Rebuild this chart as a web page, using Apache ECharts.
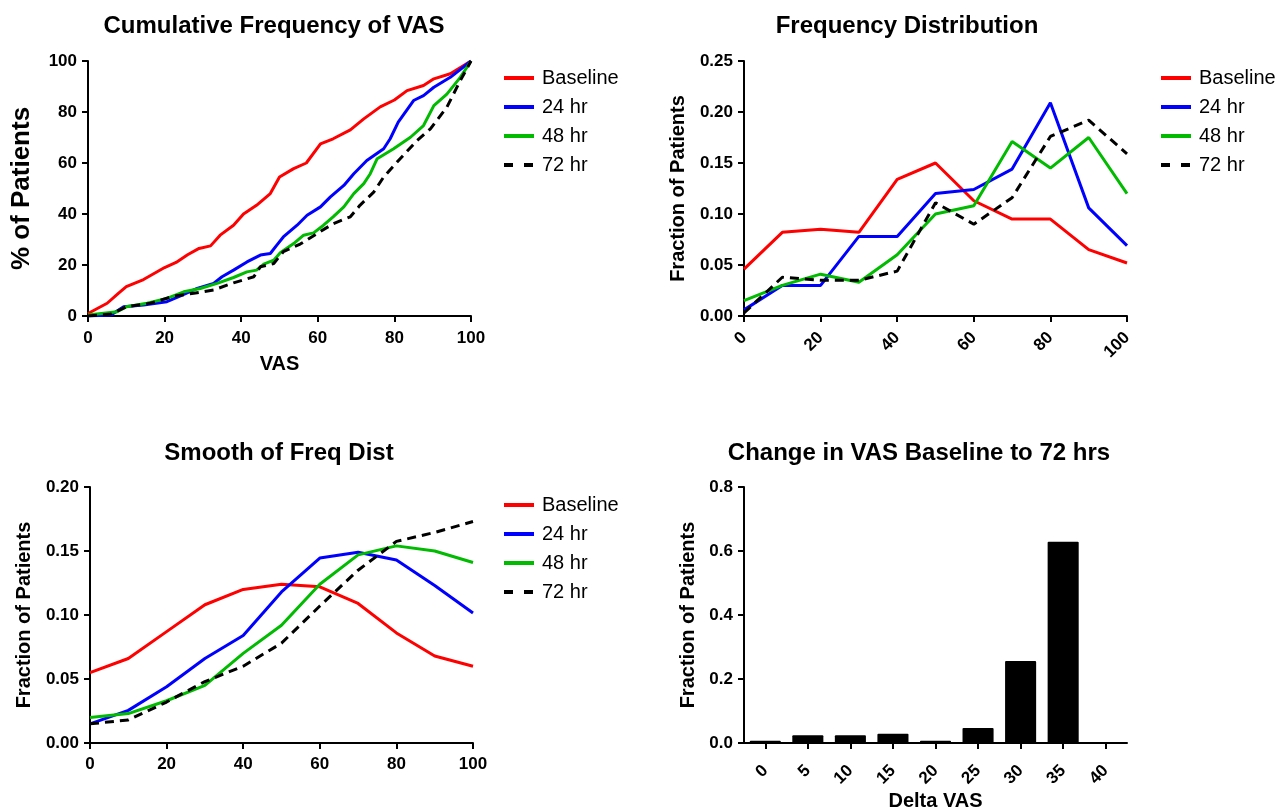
<!DOCTYPE html>
<html>
<head>
<meta charset="utf-8">
<title>VAS charts</title>
<script src="https://cdn.jsdelivr.net/npm/echarts@6/dist/echarts.min.js"></script>
<style>
  html, body { margin: 0; padding: 0; background: #fff; }
  #chart { width: 1283px; height: 812px; }
</style>
</head>
<body>
<div id="chart"></div>
<script>
// cumulative frequency (VAS, % of patients)
const cumBaseX = [0, 5, 8, 10, 14.5, 20, 23, 26, 29, 32, 34.5, 38, 40.6, 44, 47.6, 50, 53.7, 57, 60.7, 64, 68.5, 72, 76.3, 80, 83.3, 87.6, 90.3, 94.6, 100]
const cumBaseY = [1, 5, 9, 11.5, 14.3, 19, 21, 24, 26.5, 27.5, 31.7, 35.6, 40, 43.4, 48, 54.5, 57.8, 60, 67.5, 69.5, 73, 77.3, 82, 84.7, 88.4, 90.4, 93, 95, 100]
const cum24X = [0, 6, 9.3, 14.5, 20.6, 24, 28.5, 32.8, 35, 38, 41.5, 45, 47.6, 49.3, 51, 54.6, 57.2, 60.7, 63.3, 66.8, 69.4, 72.8, 77.2, 78.9, 81, 85, 87.6, 90.3, 94.6, 100]
const cum24Y = [0, 0.4, 3.6, 4.3, 5.6, 7.8, 10.8, 12.8, 15.4, 18, 21.2, 23.9, 24.5, 27.8, 31, 35.6, 39.5, 42.8, 46.7, 51.2, 55.8, 61, 65.6, 69.5, 76, 84.5, 86.4, 89.7, 93.6, 100]
const cum48X = [0, 7.6, 10, 15.4, 20.6, 25, 29.3, 33.7, 38, 41.5, 44, 45.9, 48.5, 50.2, 53.7, 56.3, 58.9, 61.5, 64, 66.8, 69.4, 72, 73.7, 75.5, 79.8, 84.2, 87.6, 90.3, 93.7, 97.2, 100]
const cum48Y = [0.4, 1.7, 3.6, 5, 6.9, 9.5, 10.8, 12.8, 15.1, 17.3, 18, 20.3, 21.9, 24.8, 28.4, 31.7, 32.6, 35.6, 38.9, 42.8, 48, 51.9, 55.8, 61.7, 65.6, 70.1, 74.7, 82.5, 87, 93.6, 100]
const cum72X = [0, 6, 10, 16.3, 22.4, 27.6, 32.8, 38, 43.3, 45, 48.5, 51, 55.4, 59.8, 64, 68.5, 71, 74.6, 77.2, 81.5, 85.9, 89.4, 93.7, 97.2, 100]
const cum72Y = [0, 0.8, 3.6, 5, 7.8, 8.9, 10.2, 13, 15.4, 19.3, 20.6, 25.2, 28.2, 32.3, 36.2, 38.9, 43.4, 48.6, 54.5, 61.7, 68.8, 73.4, 81.9, 92.3, 100]

// frequency distribution, bins of 10 VAS
const vasBins = [0, 10, 20, 30, 40, 50, 60, 70, 80, 90, 100]
const freqBase = [0.046, 0.082, 0.085, 0.082, 0.134, 0.150, 0.113, 0.095, 0.095, 0.065, 0.052]
const freq24 = [0.006, 0.030, 0.030, 0.078, 0.078, 0.120, 0.124, 0.144, 0.209, 0.106, 0.069]
const freq48 = [0.015, 0.030, 0.041, 0.033, 0.060, 0.100, 0.108, 0.171, 0.145, 0.175, 0.120]
const freq72 = [0.003, 0.038, 0.035, 0.035, 0.044, 0.111, 0.090, 0.116, 0.176, 0.192, 0.159]

// smoothed frequency distribution
const smoothBase = [0.055, 0.066, 0.087, 0.108, 0.120, 0.124, 0.122, 0.109, 0.086, 0.068, 0.060]
const smooth24 = [0.015, 0.0255, 0.044, 0.066, 0.084, 0.118, 0.1445, 0.149, 0.143, 0.123, 0.1015]
const smooth48 = [0.020, 0.023, 0.033, 0.045, 0.070, 0.092, 0.124, 0.147, 0.154, 0.150, 0.141]
const smooth72 = [0.015, 0.018, 0.032, 0.048, 0.060, 0.078, 0.107, 0.135, 0.1575, 0.1645, 0.173]

// change in VAS baseline to 72 hrs
const deltaCats = ['0', '5', '10', '15', '20', '25', '30', '35', '40']
const deltaFrac = [0.007, 0.024, 0.024, 0.029, 0.007, 0.047, 0.256, 0.629, 0]

const seriesNames = ['Baseline', '24 hr', '48 hr', '72 hr']
const seriesColors = ['#ff0000', '#0000ff', '#00bb00', '#000000']

const FONT = '"Liberation Sans", Arial, sans-serif'

function zip (xs, ys) {
  return xs.map((x, i) => [x, ys[i]])
}

function lineSeries (idx, data, gridIdx) {
  return {
    name: seriesNames[idx],
    type: 'line',
    xAxisIndex: gridIdx,
    yAxisIndex: gridIdx,
    data: data,
    symbol: 'none',
    smooth: false,
    animation: false,
    lineStyle: {
      color: seriesColors[idx],
      width: 3,
      type: idx === 3 ? [9, 6] : 'solid'
    },
    itemStyle: { color: seriesColors[idx] }
  }
}

const axisCommon = {
  axisLine: { show: true, onZero: false, lineStyle: { color: '#000', width: 2 } },
  axisTick: { show: true, length: 6, lineStyle: { color: '#000', width: 2 } },
  splitLine: { show: false },
  axisLabel: { color: '#000', fontWeight: 'bold', fontSize: 17, fontFamily: FONT, margin: 11 }
}

function valueX (gridIdx, labelMargin, extra) {
  const axis = Object.assign({
    type: 'value',
    gridIndex: gridIdx,
    min: 0,
    max: 100,
    interval: 20
  }, JSON.parse(JSON.stringify(axisCommon)), extra || {})
  axis.axisLabel.margin = labelMargin
  return axis
}

function valueY (gridIdx, max, interval, digits, name, nameSize, nameGap) {
  const axis = Object.assign({
    type: 'value',
    gridIndex: gridIdx,
    min: 0,
    max: max,
    interval: interval,
    name: name,
    nameLocation: 'middle',
    nameGap: nameGap,
    nameTextStyle: { color: '#000', fontWeight: 'bold', fontSize: nameSize, fontFamily: FONT }
  }, JSON.parse(JSON.stringify(axisCommon)))
  axis.axisLabel.formatter = v => v.toFixed(digits)
  return axis
}

function legendAt (left, top) {
  // the dashed entry gets longer dashes, like the original key
  const items = seriesNames.map((name, i) => i === 3
    ? { name: name, lineStyle: { type: [9, 11] } }
    : { name: name })
  return {
    left: left,
    top: top,
    orient: 'vertical',
    itemWidth: 30,
    itemHeight: 14,
    itemGap: 9,
    data: items,
    itemStyle: { opacity: 0 },
    lineStyle: { width: 4 },
    textStyle: { color: '#000', fontSize: 20, fontFamily: FONT, padding: [0, 0, 0, 3] },
    selectedMode: false
  }
}

function titleAt (text, x, y) {
  return {
    text: text,
    left: x,
    top: y,
    textAlign: 'center',
    textStyle: { color: '#000', fontWeight: 'bold', fontSize: 24, fontFamily: FONT }
  }
}

const chart = echarts.init(document.getElementById('chart'))

const xCum = valueX(0, 14, {
  name: 'VAS',
  nameLocation: 'middle',
  nameGap: 38,
  nameTextStyle: { color: '#000', fontWeight: 'bold', fontSize: 20, fontFamily: FONT }
})
const xFreq = valueX(1, 19)
xFreq.axisLabel.rotate = 45
const xSmooth = valueX(2, 13)

const xDelta = Object.assign({
  type: 'category',
  gridIndex: 3,
  data: deltaCats,
  name: 'Delta VAS',
  nameLocation: 'middle',
  nameGap: 48,
  nameTextStyle: { color: '#000', fontWeight: 'bold', fontSize: 20, fontFamily: FONT }
}, JSON.parse(JSON.stringify(axisCommon)))
xDelta.axisTick.alignWithLabel = true
xDelta.axisLabel.rotate = 45
xDelta.axisLabel.interval = 0
xDelta.axisLabel.margin = 25

chart.setOption({
  backgroundColor: '#fff',
  title: [
    titleAt('Cumulative Frequency of VAS', 269, 9),
    titleAt('Frequency Distribution', 902, 9),
    titleAt('Smooth of Freq Dist', 274, 436),
    titleAt('Change in VAS Baseline to 72 hrs', 914, 436)
  ],
  legend: [
    legendAt(497, 63),
    legendAt(1154, 63),
    legendAt(497, 490)
  ],
  grid: [
    { left: 88, top: 61, width: 383, height: 255 },
    { left: 744, top: 61, width: 383, height: 255 },
    { left: 90, top: 487, width: 383, height: 256 },
    { left: 744, top: 487, width: 383, height: 256 }
  ],
  xAxis: [xCum, xFreq, xSmooth, xDelta],
  yAxis: [
    valueY(0, 100, 20, 0, '% of Patients', 26, 53),
    valueY(1, 0.25, 0.05, 2, 'Fraction of Patients', 20, 56),
    valueY(2, 0.2, 0.05, 2, 'Fraction of Patients', 20, 56),
    valueY(3, 0.8, 0.2, 1, 'Fraction of Patients', 20, 46)
  ],
  series: [
    lineSeries(0, zip(cumBaseX, cumBaseY), 0),
    lineSeries(1, zip(cum24X, cum24Y), 0),
    lineSeries(2, zip(cum48X, cum48Y), 0),
    lineSeries(3, zip(cum72X, cum72Y), 0),
    lineSeries(0, zip(vasBins, freqBase), 1),
    lineSeries(1, zip(vasBins, freq24), 1),
    lineSeries(2, zip(vasBins, freq48), 1),
    lineSeries(3, zip(vasBins, freq72), 1),
    lineSeries(0, zip(vasBins, smoothBase), 2),
    lineSeries(1, zip(vasBins, smooth24), 2),
    lineSeries(2, zip(vasBins, smooth48), 2),
    lineSeries(3, zip(vasBins, smooth72), 2),
    {
      name: 'Delta',
      type: 'bar',
      xAxisIndex: 3,
      yAxisIndex: 3,
      data: deltaFrac,
      barWidth: '73%',
      animation: false,
      itemStyle: { color: '#000', borderRadius: 1 }
    }
  ]
})

window.addEventListener('resize', () => chart.resize())
</script>
</body>
</html>
